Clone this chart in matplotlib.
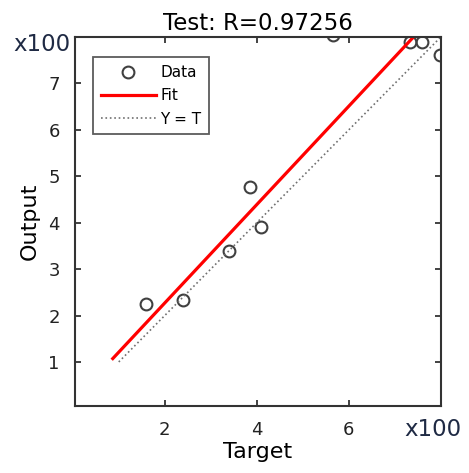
import numpy as np
import matplotlib
matplotlib.use('Agg')
import matplotlib.pyplot as plt

plt.rcParams['font.family'] = ['DejaVu Sans']

# values in units of 100
target = [1.59, 2.39, 3.39, 4.09, 3.85, 7.33, 7.59, 7.98, 5.65]
output = [2.24, 2.33, 3.39, 3.91, 4.76, 7.89, 7.89, 7.61, 8.05]
fit_slope = 1.06
fit_intercept = 0.15
fit_range = [0.87, 7.40]
ident_range = [1.0, 8.0]
r_value = 0.97256
x_ticks = [2, 4, 6]
y_ticks = [1, 2, 3, 4, 5, 6, 7]
lims = (0.05, 8.0)

fig = plt.figure(figsize=(4.69, 4.73), dpi=100)
ax = fig.add_axes([0.16, 0.1416, 0.78, 0.7802])

fx = np.array(fit_range)
ax.plot(target, output, 'o', mfc='none', mec='#404040', mew=1.5, ms=8.5,
        label='Data')
ax.plot(fx, fit_slope * fx + fit_intercept, color='red', lw=2.3, label='Fit')
ax.plot(ident_range, ident_range, ':', color='#707070', lw=1.2, label='Y = T')

ax.set_xlim(lims)
ax.set_ylim(lims)
ax.set_xticks(x_ticks)
ax.set_yticks(y_ticks)
ax.tick_params(direction='in', top=True, right=True, length=4, width=1.2,
               labelsize=13, colors='#222222', pad=11)
for s in ax.spines.values():
    s.set_linewidth(1.5)
    s.set_color('#333333')

ax.set_title(f'Test: R={r_value}', fontsize=16.5, pad=5)
ax.set_xlabel('Target', fontsize=16, labelpad=2)
ax.set_ylabel('Output', fontsize=16, labelpad=6)

fig.text(0.15, 0.905, 'x100', fontsize=16.5, color='#1f2a44',
         ha='right', va='center')
fig.text(0.862, 0.093, 'x100', fontsize=16.5, color='#1f2a44',
         ha='left', va='center')

leg = ax.legend(loc='upper left', bbox_to_anchor=(0.05, 0.945),
                fontsize=11, frameon=True, fancybox=False, edgecolor='#333333',
                handlelength=3.6, borderpad=0.5, labelspacing=0.55,
                handletextpad=0.3, borderaxespad=0)
leg.get_frame().set_linewidth(1.3)

plt.savefig('out.png', dpi=100)
plt.close()
